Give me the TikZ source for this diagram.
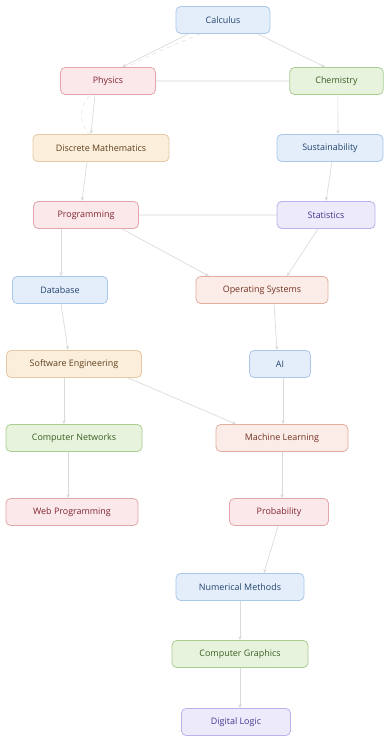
\documentclass[tikz,border=0pt]{standalone}
\usepackage{fontspec}
\setmainfont{Open Sans}
\usepackage{tikz}
\usetikzlibrary{arrows.meta, backgrounds}

\definecolor{bluefill}{HTML}{E4EEFA}
\definecolor{blueline}{HTML}{A9C7EA}
\definecolor{bluetext}{HTML}{23436F}
\definecolor{redfill}{HTML}{FBE8EA}
\definecolor{redline}{HTML}{E2A6AB}
\definecolor{redtext}{HTML}{7E2531}
\definecolor{greenfill}{HTML}{E8F3DD}
\definecolor{greenline}{HTML}{AACD91}
\definecolor{greentext}{HTML}{385D22}
\definecolor{tanfill}{HTML}{FBEEDB}
\definecolor{tanline}{HTML}{E4C9A2}
\definecolor{tantext}{HTML}{5E3F1C}
\definecolor{purplefill}{HTML}{EDEBFB}
\definecolor{purpleline}{HTML}{B9B3EC}
\definecolor{purpletext}{HTML}{44358F}
\definecolor{salmonfill}{HTML}{FBECE7}
\definecolor{salmonline}{HTML}{E2AE9E}
\definecolor{salmontext}{HTML}{713223}
\definecolor{edgegray}{HTML}{DADADA}

\begin{document}
\begin{tikzpicture}[x=0.75pt, y=-0.75pt,
    course/.style={rectangle, rounded corners=3.5pt, line width=0.6pt,
        minimum height=20.25pt, inner sep=0pt,
        font=\fontsize{6.7}{8}\selectfont},
    blue/.style={course, fill=bluefill, draw=blueline, text=bluetext},
    red/.style={course, fill=redfill, draw=redline, text=redtext},
    green/.style={course, fill=greenfill, draw=greenline, text=greentext},
    tan/.style={course, fill=tanfill, draw=tanline, text=tantext},
    purple/.style={course, fill=purplefill, draw=purpleline, text=purpletext},
    salmon/.style={course, fill=salmonfill, draw=salmonline, text=salmontext},
    prereq/.style={draw=edgegray, line width=0.5pt,
        -{Stealth[length=3pt, width=2.6pt]}},
    link/.style={draw=black!6, line width=1.2pt},
    hint/.style={draw=black!12, line width=0.4pt, dashed}]
    \useasboundingbox (0, 0) rectangle (383, 737);

    \node[blue, minimum width=70.5pt] (calc) at (223, 20) {Calculus};
    \node[red, minimum width=71.25pt] (phys) at (108, 81) {Physics};
    \node[green, minimum width=70pt] (chem) at (336.5, 81) {Chemistry};
    \node[tan, minimum width=102pt] (disc) at (101, 148) {Discrete Mathematics};
    \node[blue, minimum width=79.5pt] (sust) at (330, 148) {Sustainability};
    \node[red, minimum width=78.75pt] (prog) at (86, 215) {Programming};
    \node[purple, minimum width=73.5pt] (stat) at (326, 215) {Statistics};
    \node[blue, minimum width=71.25pt] (db) at (60, 290) {Database};
    \node[salmon, minimum width=99pt] (os) at (262, 290) {Operating Systems};
    \node[tan, minimum width=101.25pt] (se) at (74, 364) {Software Engineering};
    \node[blue, minimum width=45.75pt] (ai) at (280, 364) {AI};
    \node[green, minimum width=102pt] (net) at (74, 438) {Computer Networks};
    \node[salmon, minimum width=99pt] (ml) at (282, 438) {Machine Learning};
    \node[red, minimum width=99pt] (web) at (72, 512) {Web Programming};
    \node[red, minimum width=74.25pt] (prob) at (279, 512) {Probability};
    \node[blue, minimum width=96pt] (num) at (240, 587) {Numerical Methods};
    \node[green, minimum width=102pt] (gfx) at (240, 654) {Computer Graphics};
    \node[purple, minimum width=81.75pt] (logic) at (236, 722) {Digital Logic};

    \begin{scope}[on background layer]
    \draw[hint] ([xshift=-17pt]calc.south) .. controls (110, 70) and (62, 100)
        .. ([xshift=-9pt]disc.north);
    \draw[link] (phys) -- (chem);
    \draw[link] (prog) -- (stat);
    \end{scope}

    \draw[prereq] ([xshift=-26pt]calc.south) -- ([xshift=10.5pt]phys.north);
    \draw[prereq] ([xshift=26pt]calc.south) -- ([xshift=-8.5pt]chem.north);
    \draw[prereq] ([xshift=-9.75pt]phys.south) -- ([xshift=-7.5pt]disc.north);
    \draw[prereq] ([xshift=1pt]chem.south) -- ([xshift=6pt]sust.north);
    \draw[prereq] ([xshift=-10.5pt]disc.south) -- ([xshift=-3pt]prog.north);
    \draw[prereq] ([xshift=1.5pt]sust.south) -- (stat.north);
    \draw[prereq] ([xshift=-18.75pt]prog.south) -- ([xshift=0.75pt]db.north);
    \draw[prereq] ([xshift=27pt]prog.south) -- ([xshift=-39.75pt]os.north);
    \draw[prereq] ([xshift=-6pt]stat.south) -- ([xshift=18.75pt]os.north);
    \draw[prereq] ([xshift=0.75pt]db.south) -- ([xshift=-4.5pt]se.north);
    \draw[prereq] ([xshift=9pt]os.south) -- ([xshift=-2.25pt]ai.north);
    \draw[prereq] ([xshift=-7.5pt]se.south) -- ([xshift=-7.5pt]net.north);
    \draw[prereq] ([xshift=40.5pt]se.south) -- ([xshift=-34.5pt]ml.north);
    \draw[prereq] ([xshift=2.25pt]ai.south) -- ([xshift=0.75pt]ml.north);
    \draw[prereq] ([xshift=-4.5pt]net.south) -- ([xshift=-3pt]web.north);
    \draw[prereq] (ml.south) -- ([xshift=2.25pt]prob.north);
    \draw[prereq] ([xshift=-0.75pt]prob.south) -- ([xshift=18pt]num.north);
    \draw[prereq] (num.south) -- (gfx.north);
    \draw[prereq] (gfx.south) -- ([xshift=3pt]logic.north);
\end{tikzpicture}
\end{document}
